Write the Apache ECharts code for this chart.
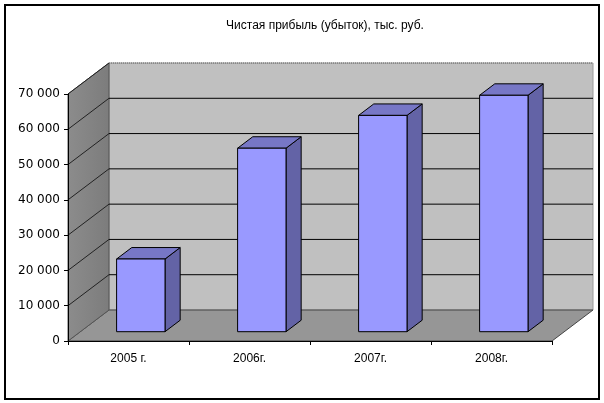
<!DOCTYPE html>
<html>
<head>
<meta charset="utf-8">
<script src="https://cdn.jsdelivr.net/npm/echarts@6/dist/echarts.min.js"></script>
<style>html,body{margin:0;padding:0;background:#fff}#c{width:604px;height:403px}</style>
</head>
<body>
<div id="c"></div>
<script>
const titleText = 'Чистая прибыль (убыток), тыс. руб.';
const categories = ['2005 г.', '2006г.', '2007г.', '2008г.'];
const values = [20600, 52000, 61300, 67000];
const yTicks = [0, 10000, 20000, 30000, 40000, 50000, 60000, 70000];

const DX = 41, DY = 31;           // depth offset of the 3D box
const D0 = 0.30, D1 = 0.67;       // bar depth start / end (fraction)
const BW = 0.40;                  // bar width fraction of category
const FONT = 'Liberation Sans';

const chart = echarts.init(document.getElementById('c'), null, {renderer: 'canvas'});

function wallsRender(params, api) {
  const cs = params.coordSys;
  const L = cs.x, R = cs.x + cs.width;
  const y0 = api.coord([0, 0])[1];
  const yMax = api.coord([0, 70000])[1];
  const children = [];
  children.push({type: 'polygon', shape: {points: [[L + DX, yMax - DY], [R + DX, yMax - DY], [R + DX, y0 - DY], [L + DX, y0 - DY]]},
    style: {fill: '#c0c0c0', stroke: '#9a9a9a', lineWidth: 1}});
  children.push({type: 'polygon', shape: {points: [[L, y0], [R, y0], [R + DX, y0 - DY], [L + DX, y0 - DY]]},
    style: {fill: '#969696', stroke: '#444', lineWidth: 1}});
  children.push({type: 'polygon', shape: {points: [[L, y0], [L, yMax], [L + DX, yMax - DY], [L + DX, y0 - DY]]},
    style: {fill: {type: 'linear', x: 0, y: 0, x2: 1, y2: 0, colorStops: [{offset: 0, color: '#8c8c8c'}, {offset: 1, color: '#7c7c7c'}]},
      stroke: '#555', lineWidth: 1}});
  children.push({type: 'line', shape: {x1: L + DX, y1: yMax - DY, x2: R + DX, y2: yMax - DY},
    style: {stroke: '#666', lineWidth: 1, lineDash: [1, 1]}});
  yTicks.forEach(function (v) {
    const y = api.coord([0, v])[1];
    if (v > 0 && v < 70000) {
      children.push({type: 'line', shape: {x1: L + DX, y1: y - DY, x2: R + DX, y2: y - DY},
        style: {stroke: '#000', lineWidth: 1}});
    }
    if (v > 0) {
      children.push({type: 'line', shape: {x1: L, y1: y, x2: L + DX, y2: y - DY},
        style: {stroke: '#222', lineWidth: 1}});
    }
  });
  return {type: 'group', children: children};
}

function barRender(params, api) {
  const c = api.value(0), v = api.value(1);
  const top = api.coord([c, v]);
  const base = api.coord([c, 0]);
  const cw = api.size([1, 0])[0];
  const bw = cw * BW;
  const x0 = top[0] - bw / 2 + D0 * DX, x1 = x0 + bw;
  const yT = top[1] - D0 * DY, yB = base[1] - D0 * DY;
  const ddx = (D1 - D0) * DX, ddy = (D1 - D0) * DY;
  const st = {stroke: '#000', lineWidth: 1, lineJoin: 'round'};
  return {type: 'group', children: [
    {type: 'polygon', shape: {points: [[x1, yT], [x1 + ddx, yT - ddy], [x1 + ddx, yB - ddy], [x1, yB]]},
      style: Object.assign({fill: '#6363a6'}, st)},
    {type: 'polygon', shape: {points: [[x0, yT], [x1, yT], [x1 + ddx, yT - ddy], [x0 + ddx, yT - ddy]]},
      style: Object.assign({fill: '#7777c6'}, st)},
    {type: 'rect', shape: {x: x0, y: yT, width: bw, height: yB - yT},
      style: Object.assign({fill: '#9999ff'}, st)}
  ]};
}

chart.setOption({
  animation: false,
  backgroundColor: '#fff',
  title: {text: titleText, left: 320, top: 15, textAlign: 'center',
    textStyle: {fontFamily: FONT, fontSize: 12, fontWeight: 'normal', color: '#000'}},
  grid: {left: 68, right: 52, top: 94, bottom: 62},
  xAxis: {type: 'category', data: categories, boundaryGap: true,
    axisLine: {lineStyle: {color: '#000', width: 1}},
    axisTick: {show: true, length: 4, lineStyle: {color: '#000'}},
    axisLabel: {fontFamily: FONT, fontSize: 12, color: '#000', margin: 12},
    splitLine: {show: false}, z: 10},
  yAxis: {type: 'value', min: 0, max: 70000, interval: 10000,
    axisLine: {show: true, lineStyle: {color: '#000', width: 1}},
    axisTick: {show: true, length: 4, lineStyle: {color: '#000'}},
    axisLabel: {fontFamily: 'DejaVu Sans', fontSize: 12, color: '#000', margin: 8,
      formatter: function (v) { return v >= 1000 ? (Math.round(v / 1000) + ' 000') : String(v); }},
    splitLine: {show: false}, z: 10},
  graphic: [{type: 'rect', shape: {x: 5, y: 5, width: 594, height: 394},
    style: {fill: 'none', stroke: '#000', lineWidth: 2}, z: 100}],
  series: [
    {type: 'custom', renderItem: wallsRender, data: [[0, 0]], z: 1, silent: true},
    {type: 'custom', renderItem: barRender, z: 2,
      data: values.map(function (v, i) { return [i, v]; }),
      encode: {x: 0, y: 1}}
  ]
});
</script>
</body>
</html>
